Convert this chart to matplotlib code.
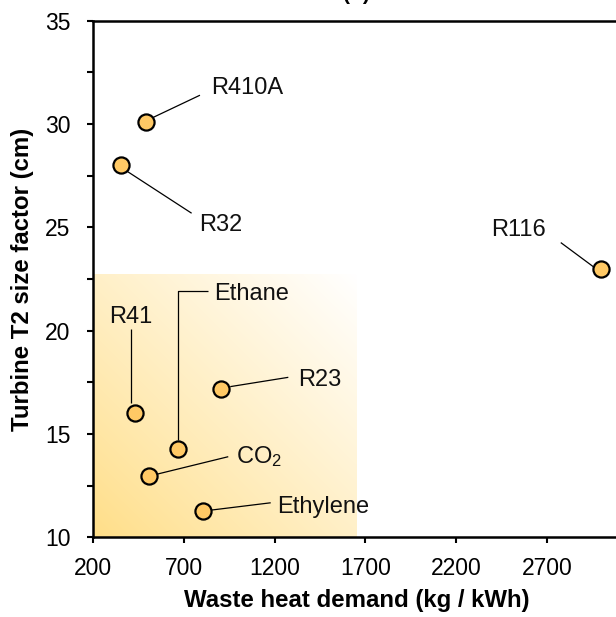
import numpy as np
import matplotlib
matplotlib.use("Agg")
import matplotlib.pyplot as plt
from matplotlib.ticker import MultipleLocator

plt.rcParams['font.family'] = ['Liberation Sans', 'DejaVu Sans']
plt.rcParams['mathtext.fontset'] = 'custom'
plt.rcParams['mathtext.rm'] = 'Liberation Sans'
plt.rcParams['mathtext.it'] = 'Liberation Sans:italic'
plt.rcParams['mathtext.bf'] = 'Liberation Sans:bold'

# ---- data ----
fluids = ["R410A", "R32", "R116", "R41", "Ethane", "R23", "CO$_2$", "Ethylene"]
waste_heat = [490, 353, 2997, 430, 665, 904, 507, 803]
turbine_size = [30.08, 28.0, 23.0, 16.0, 14.26, 17.17, 12.98, 11.29]
x_ticks = [200, 700, 1200, 1700, 2200, 2700]
y_ticks = [10, 15, 20, 25, 30, 35]
region_x = [200, 1650]
region_y = [10, 22.7]

# label layout: (text x, text y, ha, line path as list of (x, y))
layout = {
    "R410A": (847, 31.72, 'left', [(531, 30.32), (788, 31.39)]),
    "R32": (784, 25.11, 'left', [(388, 27.7), (742, 25.68)]),
    "R116": (2391, 24.87, 'left', [(2777, 24.26), (2966, 23.03)]),
    "R41": (409, 20.67, 'center', [(406, 20.06), (406, 16.5)]),
    "Ethane": (865, 21.76, 'left', [(665, 14.7), (665, 21.93), (834, 21.93)]),
    "R23": (1329, 17.61, 'left', [(955, 17.29), (1275, 17.74)]),
    "CO$_2$": (987, 13.9, 'left', [(549, 13.05), (944, 13.9)]),
    "Ethylene": (1211, 11.48, 'left', [(853, 11.32), (1178, 11.67)]),
}

W, H = 616, 617
fig = plt.figure(figsize=(W / 100, H / 100), dpi=100)
left_px, top_px, bottom_px = 93.3, 20.6, 537.3
px_per_unit = 90.7 / 500
xmin, xmax = 200, 3100
width_px = (xmax - xmin) * px_per_unit
ax = fig.add_axes([left_px / W, (H - bottom_px) / H, width_px / W, (bottom_px - top_px) / H])

# gradient region
nx, ny = 200, 200
u = np.linspace(0, 1, nx)[None, :]
v = np.linspace(0, 1, ny)[:, None]
t = np.clip((u + v) / 2.0, 0, 1) ** 0.9
yellow = np.array([255, 222, 135]) / 255.0
white = np.array([1.0, 1.0, 1.0])
img = yellow[None, None, :] * (1 - t[..., None]) + white[None, None, :] * t[..., None]
ax.imshow(img, extent=[region_x[0], region_x[1], region_y[0], region_y[1]],
          origin='lower', aspect='auto', zorder=0, interpolation='bilinear')

# leader lines and labels
for name in fluids:
    tx, ty, ha, path = layout[name]
    xs = [p[0] for p in path]
    ys = [p[1] for p in path]
    ax.plot(xs, ys, color='black', lw=0.9, zorder=2, solid_capstyle='butt')
    ax.text(tx, ty, name, ha=ha, va='center', fontsize=17, color='#111111', zorder=4)

ax.scatter(waste_heat, turbine_size, s=135, facecolor='#FFC965', edgecolor='black',
           linewidth=1.6, zorder=3, clip_on=False)

ax.set_xlim(xmin, xmax)
ax.set_ylim(10, 35)
ax.set_xticks(x_ticks)
ax.set_yticks(y_ticks)
ax.yaxis.set_minor_locator(MultipleLocator(2.5))
ax.tick_params(axis='both', which='both', direction='out', length=4.5, width=1.5,
               labelsize=16.5)
ax.tick_params(axis='x', which='major', pad=10)
ax.tick_params(axis='y', which='major', pad=12)
ax.tick_params(axis='y', which='minor', length=4.5, width=1.5)
for sp in ax.spines.values():
    sp.set_linewidth(1.8)

ax.set_xlabel("Waste heat demand (kg / kWh)", fontsize=17.3, fontweight='bold', labelpad=6)
ax.set_ylabel("Turbine T2 size factor (cm)", fontsize=17.3, fontweight='bold', labelpad=8)

fig.text((left_px + width_px / 2) / W, 1.0, "(b)", ha='center', va='baseline',
         fontsize=15, fontweight='bold')

fig.savefig("out.png", dpi=100)
